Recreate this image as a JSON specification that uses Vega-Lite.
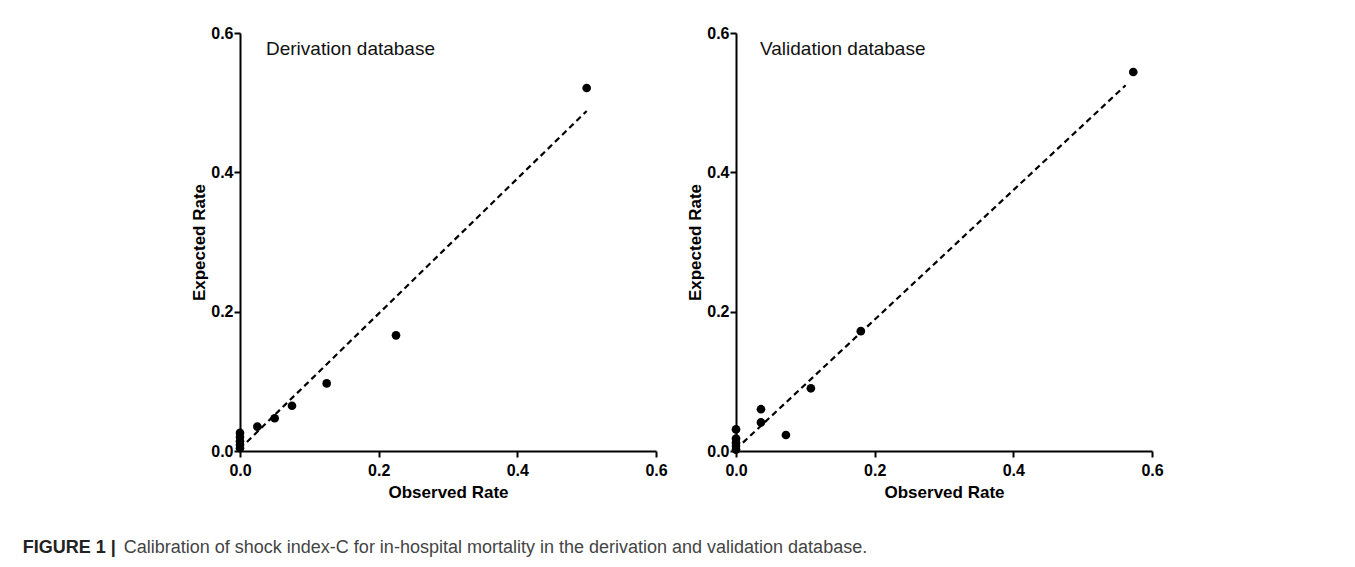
{
  "$schema": "https://vega.github.io/schema/vega-lite/v6.json",
  "background": "white",
  "padding": {"left": 22, "top": 25, "right": 5, "bottom": 5},
  "title": {
    "text": "Calibration of shock index-C for in-hospital mortality in the derivation and validation database.",
    "orient": "bottom",
    "anchor": "start",
    "frame": "bounds",
    "offset": -18,
    "dx": 101,
    "font": "Liberation Sans",
    "fontSize": 18,
    "fontWeight": "normal",
    "color": "#444444"
  },
  "datasets": {
    "points": [
      {"panel": "Derivation", "observed": 0.5, "expected": 0.521},
      {"panel": "Derivation", "observed": 0.225, "expected": 0.166},
      {"panel": "Derivation", "observed": 0.125, "expected": 0.097},
      {"panel": "Derivation", "observed": 0.075, "expected": 0.065},
      {"panel": "Derivation", "observed": 0.05, "expected": 0.047},
      {"panel": "Derivation", "observed": 0.025, "expected": 0.035},
      {"panel": "Derivation", "observed": 0.0, "expected": 0.026},
      {"panel": "Derivation", "observed": 0.0, "expected": 0.02},
      {"panel": "Derivation", "observed": 0.0, "expected": 0.014},
      {"panel": "Derivation", "observed": 0.0, "expected": 0.009},
      {"panel": "Derivation", "observed": 0.0, "expected": 0.004},
      {"panel": "Validation", "observed": 0.573, "expected": 0.544},
      {"panel": "Validation", "observed": 0.18, "expected": 0.172},
      {"panel": "Validation", "observed": 0.108, "expected": 0.09},
      {"panel": "Validation", "observed": 0.036, "expected": 0.06},
      {"panel": "Validation", "observed": 0.036, "expected": 0.041},
      {"panel": "Validation", "observed": 0.072, "expected": 0.023},
      {"panel": "Validation", "observed": 0.0, "expected": 0.031},
      {"panel": "Validation", "observed": 0.0, "expected": 0.018},
      {"panel": "Validation", "observed": 0.0, "expected": 0.012},
      {"panel": "Validation", "observed": 0.0, "expected": 0.007},
      {"panel": "Validation", "observed": 0.0, "expected": 0.002}
    ],
    "lines": [
      {"panel": "Derivation", "observed": 0.01, "expected": 0.013},
      {"panel": "Derivation", "observed": 0.5, "expected": 0.488},
      {"panel": "Validation", "observed": 0.01, "expected": 0.012},
      {"panel": "Validation", "observed": 0.562, "expected": 0.525}
    ],
    "labels": [
      {"panel": "Derivation", "label": "Derivation database"},
      {"panel": "Validation", "label": "Validation database"}
    ]
  },
  "vconcat": [
    {
      "title": {
        "text": "FIGURE 1 |",
        "orient": "bottom",
        "anchor": "start",
        "frame": "bounds",
        "offset": 39,
        "dx": -168,
        "font": "Liberation Sans",
        "fontSize": 18,
        "fontWeight": "bold",
        "color": "#222222"
      },
      "spacing": 18,
      "hconcat": [
        {
          "width": 416,
          "height": 418,
          "layer": [
            {
              "data": {"name": "lines"},
              "transform": [{"filter": "datum.panel === 'Derivation'"}],
              "mark": {"type": "line", "color": "black", "strokeWidth": 2.2, "strokeDash": [6, 4]},
              "encoding": {
                "x": {"field": "observed", "type": "quantitative", "scale": {"domain": [0, 0.6], "nice": false}, "axis": {"title": "Observed Rate", "values": [0, 0.2, 0.4, 0.6], "format": ".1f"}},
                "y": {"field": "expected", "type": "quantitative", "scale": {"domain": [0, 0.6], "nice": false}, "axis": {"title": "Expected Rate", "values": [0, 0.2, 0.4, 0.6], "format": ".1f"}}
              }
            },
            {
              "data": {"name": "points"},
              "transform": [{"filter": "datum.panel === 'Derivation'"}],
              "mark": {"type": "circle", "color": "black", "size": 75, "opacity": 1},
              "encoding": {
                "x": {"field": "observed", "type": "quantitative"},
                "y": {"field": "expected", "type": "quantitative"}
              }
            },
            {
              "data": {"name": "labels"},
              "transform": [{"filter": "datum.panel === 'Derivation'"}],
              "mark": {"type": "text", "align": "left", "baseline": "alphabetic", "dx": 26, "dy": 22, "font": "Liberation Sans", "fontSize": 19, "color": "#111111"},
              "encoding": {
                "x": {"datum": 0, "type": "quantitative"},
                "y": {"datum": 0.6, "type": "quantitative"},
                "text": {"field": "label"}
              }
            }
          ]
        },
        {
          "width": 416,
          "height": 418,
          "layer": [
            {
              "data": {"name": "lines"},
              "transform": [{"filter": "datum.panel === 'Validation'"}],
              "mark": {"type": "line", "color": "black", "strokeWidth": 2.2, "strokeDash": [6, 4]},
              "encoding": {
                "x": {"field": "observed", "type": "quantitative", "scale": {"domain": [0, 0.6], "nice": false}, "axis": {"title": "Observed Rate", "values": [0, 0.2, 0.4, 0.6], "format": ".1f"}},
                "y": {"field": "expected", "type": "quantitative", "scale": {"domain": [0, 0.6], "nice": false}, "axis": {"title": "Expected Rate", "values": [0, 0.2, 0.4, 0.6], "format": ".1f"}}
              }
            },
            {
              "data": {"name": "points"},
              "transform": [{"filter": "datum.panel === 'Validation'"}],
              "mark": {"type": "circle", "color": "black", "size": 75, "opacity": 1},
              "encoding": {
                "x": {"field": "observed", "type": "quantitative"},
                "y": {"field": "expected", "type": "quantitative"}
              }
            },
            {
              "data": {"name": "labels"},
              "transform": [{"filter": "datum.panel === 'Validation'"}],
              "mark": {"type": "text", "align": "left", "baseline": "alphabetic", "dx": 24, "dy": 22, "font": "Liberation Sans", "fontSize": 19, "color": "#111111"},
              "encoding": {
                "x": {"datum": 0, "type": "quantitative"},
                "y": {"datum": 0.6, "type": "quantitative"},
                "text": {"field": "label"}
              }
            }
          ]
        }
      ]
    }
  ],
  "config": {
    "view": {"stroke": null},
    "axis": {
      "grid": false,
      "labelFlush": false,
      "domainColor": "black",
      "domainWidth": 2,
      "tickColor": "black",
      "tickWidth": 2,
      "tickSize": 6,
      "labelFont": "Liberation Sans",
      "labelFontSize": 16,
      "labelFontWeight": "bold",
      "labelColor": "black",
      "titleFont": "Liberation Sans",
      "titleFontSize": 17,
      "titleFontWeight": "bold",
      "titleColor": "black"
    },
    "axisX": {"labelPadding": 5, "titlePadding": 6},
    "axisY": {"labelPadding": 1, "titlePadding": 2}
  }
}
